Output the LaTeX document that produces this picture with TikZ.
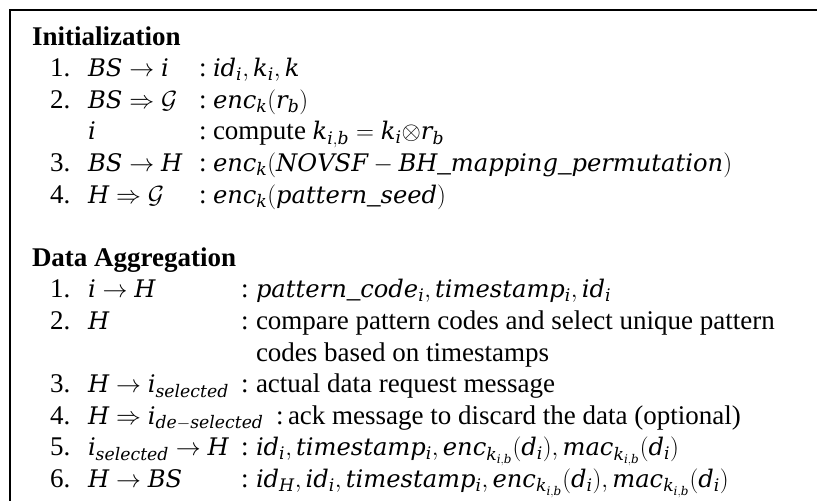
\documentclass[tikz,border=0pt]{standalone}
\usepackage{fontspec}
\setmainfont{Liberation Serif}
\newfontfamily\dvsi{DejaVu Serif}[NFSSFamily=dvsi]
\DeclareSymbolFont{dvletters}{TU}{dvsi}{m}{it}
\makeatletter
\count@=`a
\loop \Umathcode\count@="7 \symdvletters \count@ \ifnum\count@<`z \advance\count@ 1 \repeat
\count@=`A
\loop \Umathcode\count@="7 \symdvletters \count@ \ifnum\count@<`Z \advance\count@ 1 \repeat
\makeatother
\DeclareMathSizes{27}{24.2}{17.28}{12}
\begin{document}
\begin{tikzpicture}[x=1pt,y=-1pt,
  every node/.style={anchor=base west,inner sep=0pt,outer sep=0pt,font=\fontsize{27}{31.6}\selectfont},
  head/.style={font=\fontsize{27}{31.6}\selectfont\bfseries},
  frame/.style={line width=1.8pt,draw=black}]
\useasboundingbox (0,0) rectangle (817,501);
\coordinate (tr) at (817,10);
\coordinate (corner) at (10,10);
\coordinate (bl) at (10,501);
\draw[frame] (tr) -- (corner) -- (bl);
% Initialization
\node[head] (h1) at (32,45) {Initialization};
\node (n1) at (50,76.6) {1.};
\node (l1) at (88,76.6) {$BS \rightarrow i$};
\node (c1) at (199,76.6) {:};
\node (t1) at (213,76.6) {$id_i, k_i, k$};
\node (n2) at (50,108.2) {2.};
\node (l2) at (88,108.2) {$BS \Rightarrow \mathcal{G}$};
\node (c2) at (199,108.2) {:};
\node (t2) at (213,108.2) {$enc_k(r_b)$};
\node (l2b) at (88,139.8) {$i$};
\node (c2b) at (199,139.8) {:};
\node (t2b) at (213,139.8) {compute $k_{i,b} = k_i{\otimes}r_b$};
\node (n3) at (50,171.4) {3.};
\node (l3) at (88,171.4) {$BS \rightarrow H$};
\node (c3) at (199,171.4) {:};
\node (t3) at (213,171.4) {$enc_k(NOVSF - BH\_mapping\_permutation)$};
\node (n4) at (50,203) {4.};
\node (l4) at (88,203) {$H \Rightarrow \mathcal{G}$};
\node (c4) at (199,203) {:};
\node (t4) at (213,203) {$enc_k(pattern\_seed)$};
% Data Aggregation
\node[head] (h2) at (32,266.2) {Data Aggregation};
\node (m1) at (50,297.8) {1.};
\node (k1) at (88,297.8) {$i \rightarrow H$};
\node (d1) at (241,297.8) {:};
\node (s1) at (256,297.8) {$pattern\_code_i, timestamp_i, id_i$};
\node (m2) at (50,329.4) {2.};
\node (k2) at (88,329.4) {$H$};
\node (d2) at (241,329.4) {:};
\node (s2) at (256,329.4) {compare pattern codes and select unique pattern};
\node (s2b) at (256,361) {codes based on timestamps};
\node (m3) at (50,392.6) {3.};
\node (k3) at (88,392.6) {$H \rightarrow i_{selected}$};
\node (d3) at (241,392.6) {:};
\node (s3) at (256,392.6) {actual data request message};
\node (m4) at (50,424.2) {4.};
\node (k4) at (88,424.2) {$H \Rightarrow i_{de-selected}$};
\node (d4) at (276,424.2) {:};
\node (s4) at (288,424.2) {ack message to discard the data (optional)};
\node (m5) at (50,455.8) {5.};
\node (k5) at (88,455.8) {$i_{selected} \rightarrow H$};
\node (d5) at (241,455.8) {:};
\node (s5) at (256,455.8) {$id_i, timestamp_i, enc_{k_{i,b}}(d_i), mac_{k_{i,b}}(d_i)$};
\node (m6) at (50,487.4) {6.};
\node (k6) at (88,487.4) {$H \rightarrow BS$};
\node (d6) at (241,487.4) {:};
\node (s6) at (256,487.4) {$id_H, id_i, timestamp_i, enc_{k_{i,b}}(d_i), mac_{k_{i,b}}(d_i)$};
\end{tikzpicture}
\end{document}
